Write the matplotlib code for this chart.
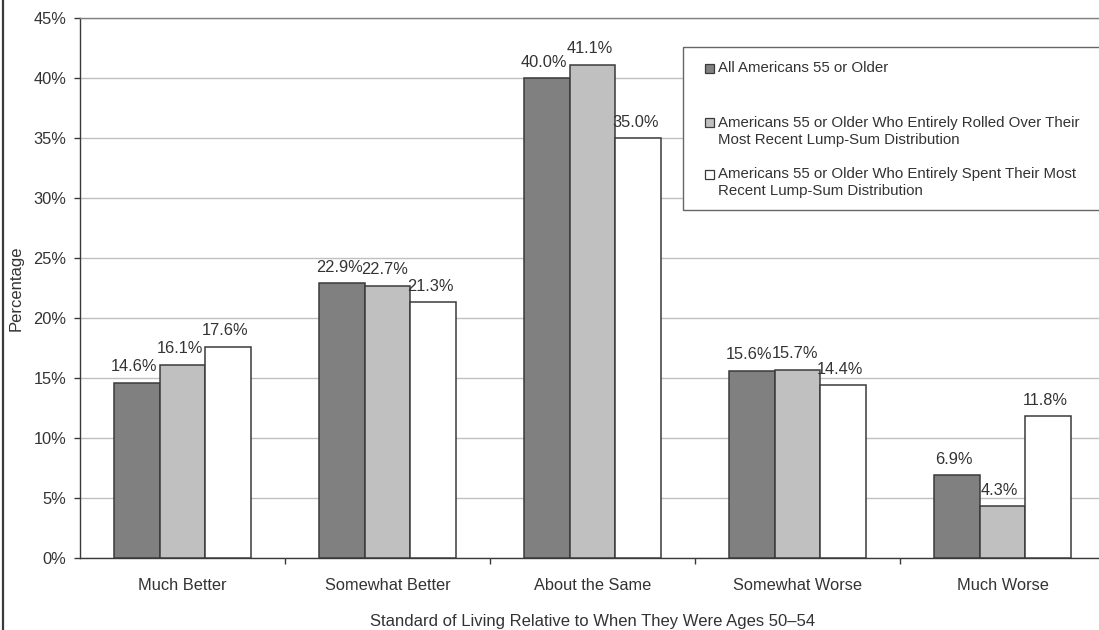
import numpy as np
import matplotlib
matplotlib.use("Agg")
import matplotlib.pyplot as plt
from matplotlib.patches import Rectangle
from matplotlib.lines import Line2D

plt.rcParams["font.family"] = ["Liberation Sans", "DejaVu Sans"]

categories = ["Much Better", "Somewhat Better", "About the Same",
              "Somewhat Worse", "Much Worse"]
all_55 = [14.6, 22.9, 40.0, 15.6, 6.9]
rolled_over = [16.1, 22.7, 41.1, 15.7, 4.3]
spent = [17.6, 21.3, 35.0, 14.4, 11.8]

series_names = [
    "All Americans 55 or Older",
    "Americans 55 or Older Who Entirely Rolled Over Their\nMost Recent Lump-Sum Distribution",
    "Americans 55 or Older Who Entirely Spent Their Most\nRecent Lump-Sum Distribution",
]
colors = ["#808080", "#c0c0c0", "#ffffff"]
edge = "#3a3a3a"
text_col = "#333333"

W, H = 1099, 630
fig = plt.figure(figsize=(W / 100, H / 100), dpi=100)
ax = fig.add_axes([80 / W, 72 / H, 1025 / W, 540 / H])

x = np.arange(len(categories))
w = 0.2225
for k, vals in enumerate([all_55, rolled_over, spent]):
    bars = ax.bar(x + (k - 1) * w, vals, w, color=colors[k], edgecolor=edge,
                  linewidth=1.1, zorder=3)
    for b, v in zip(bars, vals):
        ax.annotate(f"{v:.1f}%", (b.get_x() + b.get_width() / 2, v),
                    xytext=(-2, 6), textcoords="offset points",
                    ha="center", va="bottom", fontsize=11.8, color=text_col)

ax.set_xlim(-0.5, len(categories) - 0.5)
ax.set_ylim(0, 45)
ax.set_yticks(np.arange(0, 46, 5))
ax.set_yticklabels([f"{t}%" for t in range(0, 46, 5)])
ax.yaxis.grid(True, color="#c0c0c0", linewidth=1, zorder=0)
ax.set_axisbelow(True)

ax.set_xticks(x)
ax.set_xticklabels(categories)
ax.set_xticks(np.arange(0.5, len(categories) - 0.5, 1), minor=True)
ax.tick_params(axis="x", which="major", length=0, pad=14.5, labelsize=11.8,
               colors=text_col)
ax.tick_params(axis="x", which="minor", length=4, width=1, color=edge,
               direction="out")
ax.tick_params(axis="y", length=4, width=1, color=edge, pad=6,
               labelsize=11.8, colors=text_col)

for s in ["left", "bottom"]:
    ax.spines[s].set_color(edge)
    ax.spines[s].set_linewidth(1)
ax.spines["right"].set_visible(False)
ax.spines["top"].set_color("#808080")
ax.spines["top"].set_linewidth(1)

ax.set_ylabel("Percentage", fontsize=12, color=text_col, labelpad=7)
ax.set_xlabel("Standard of Living Relative to When They Were Ages 50\u201354",
              fontsize=12, color=text_col, labelpad=15)

# legend box drawn in figure pixels
def fx(px):
    return px / W


def fy(py):
    return 1 - py / H


fig.patches.append(Rectangle((fx(683), fy(210)), fx(440), (210 - 47) / H,
                             transform=fig.transFigure, facecolor="white",
                             edgecolor="#666666", linewidth=1, zorder=5))
entry_y = [68, 123, 174]
for name, c, yy in zip(series_names, colors, entry_y):
    fig.patches.append(Rectangle((fx(705), fy(yy + 4.5)), fx(9), 9 / H,
                                 transform=fig.transFigure, facecolor=c,
                                 edgecolor=edge, linewidth=0.9, zorder=6))
    fig.text(fx(718), fy(yy - 7), name, ha="left", va="top", fontsize=10.8,
             color=text_col, linespacing=1.25, zorder=7)

# outer frame edge on the left
fig.add_artist(Line2D([fx(3), fx(3)], [0, 1], transform=fig.transFigure,
                      color="#3a3a3a", linewidth=1.6))

fig.savefig("out.png", dpi=100)
